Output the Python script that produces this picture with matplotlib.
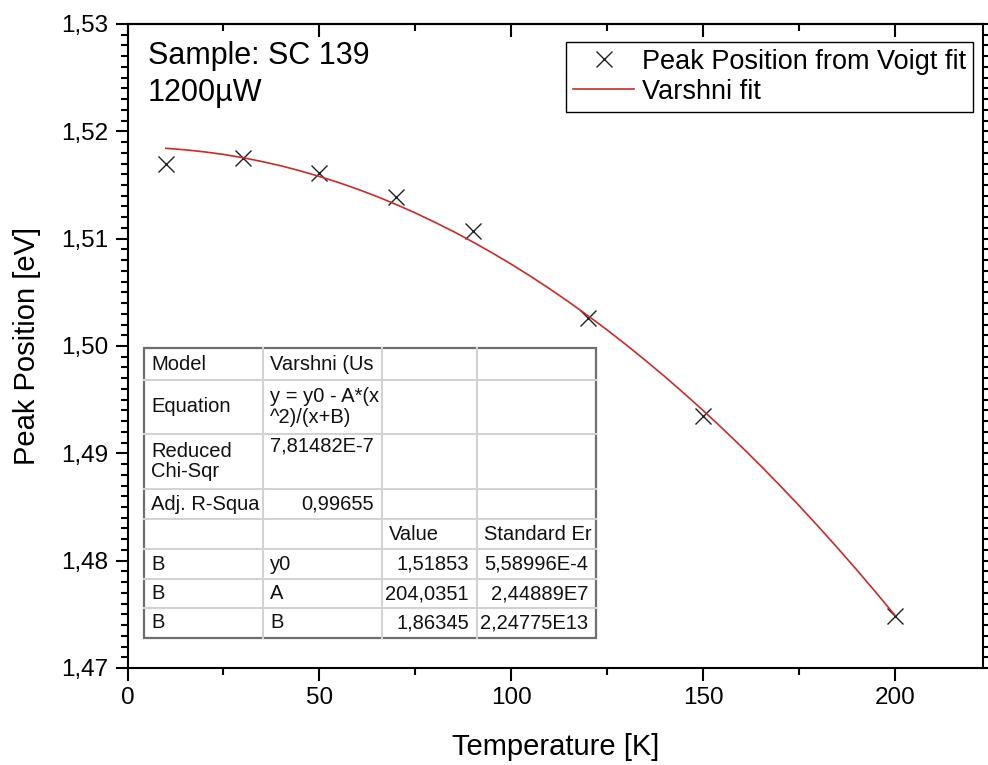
import matplotlib.pyplot as plt
from matplotlib.ticker import MultipleLocator, FuncFormatter
from matplotlib.patches import Rectangle
from matplotlib.lines import Line2D

plt.rcParams['font.family'] = ['Liberation Sans', 'DejaVu Sans']

# measured peak positions
temperature = [10, 30, 50, 70, 90, 120, 150, 200]
peak_position = [1.5170, 1.5175, 1.5161, 1.5139, 1.5107, 1.5026, 1.4935, 1.4748]

# Varshni fit curve
fit_temperature = [10, 15, 20, 25, 30, 35, 40, 45, 50, 55, 60, 65, 70, 75, 80, 85,
                   90, 95, 100, 105, 110, 115, 120, 125, 130, 135, 140, 145, 150,
                   155, 160, 165, 170, 175, 180, 185, 190, 195, 200]
fit_peak = [1.51842, 1.51828, 1.51809, 1.51785, 1.51755, 1.51719, 1.51679, 1.51632,
            1.51580, 1.51523, 1.51461, 1.51393, 1.51319, 1.51240, 1.51155, 1.51066,
            1.50970, 1.50869, 1.50763, 1.50651, 1.50534, 1.50411, 1.50283, 1.50150,
            1.50011, 1.49866, 1.49717, 1.49561, 1.49401, 1.49234, 1.49063, 1.48886,
            1.48703, 1.48515, 1.48321, 1.48122, 1.47918, 1.47708, 1.47493]

# fit report table (Origin style)
table_col1 = ["Model", "Equation", "Reduced\nChi-Sqr", "Adj. R-Squa", "", "B", "B", "B"]
table_col2 = ["Varshni (Us", "y = y0 - A*(x\n^2)/(x+B)", "7,81482E-7", "0,99655", "", "y0", "A", "B"]
table_col3 = ["", "", "", "", "Value", "1,51853", "204,0351", "1,86345"]
table_col4 = ["", "", "", "", "Standard Er", "5,58996E-4", "2,44889E7", "2,24775E13"]

W, H = 988, 765
fig = plt.figure(figsize=(W / 100, H / 100), dpi=100)
ax = fig.add_axes([127.5 / W, 1 - 668 / H, (983 - 127.5) / W, (668 - 24) / H])

ax.plot(temperature, peak_position, linestyle="none", marker="x", markersize=12,
        markeredgewidth=1.0, color="#222222", label="Peak Position from Voigt fit")
ax.plot(fit_temperature, fit_peak, color="#cc2a2a", linewidth=1.2, label="Varshni fit")

ax.set_xlim(0, 223)
ax.set_ylim(1.47, 1.53)
ax.xaxis.set_major_locator(MultipleLocator(50))
ax.xaxis.set_minor_locator(MultipleLocator(25))
ax.yaxis.set_major_locator(MultipleLocator(0.01))
ax.yaxis.set_minor_locator(MultipleLocator(0.001))
ax.yaxis.set_major_formatter(FuncFormatter(lambda v, p: f"{v:.2f}".replace(".", ",")))

for s in ax.spines.values():
    s.set_linewidth(1.5)
ax.tick_params(axis="both", which="major", direction="out", length=9, width=1.5,
               labelsize=17.5, pad=5)
ax.tick_params(axis="both", which="minor", direction="out", length=5, width=1.5)
ax.tick_params(axis="y", which="both", right=True)

top = ax.secondary_xaxis("top")
top.xaxis.set_major_locator(MultipleLocator(50))
top.xaxis.set_minor_locator(MultipleLocator(25))
top.tick_params(which="major", direction="in", length=9, width=1.5, labeltop=False)
top.tick_params(which="minor", direction="in", length=5, width=1.5)
top.spines["top"].set_linewidth(1.5)

ax.set_xlabel("Temperature [K]", fontsize=21, labelpad=17)
ax.set_ylabel("Peak Position [eV]", fontsize=21, labelpad=14)

ax.text(0.024, 0.974, "Sample: SC 139\n1200µW", transform=ax.transAxes,
        fontsize=22, va="top", ha="left", linespacing=1.3)

leg = ax.legend(loc="upper right", bbox_to_anchor=(0.9883, 0.972), borderaxespad=0,
                fontsize=19.5, frameon=True, fancybox=False, framealpha=1,
                edgecolor="black", handlelength=2.25, handletextpad=0.3,
                labelspacing=0.15, borderpad=0.25)
leg.get_frame().set_linewidth(1.0)


def fx(x):
    return x / W


def fy(y):
    return 1 - y / H


col_edges = [144, 263, 382, 477, 596]
row_edges = [348, 380, 434, 489, 519, 549, 579, 608, 638]

fig.add_artist(Rectangle((fx(col_edges[0]), fy(row_edges[-1])),
                         fx(col_edges[-1]) - fx(col_edges[0]),
                         fy(row_edges[0]) - fy(row_edges[-1]),
                         transform=fig.transFigure, facecolor="white",
                         edgecolor="#6e6e6e", linewidth=1.6, zorder=5))
for cx in col_edges[1:-1]:
    fig.add_artist(Line2D([fx(cx), fx(cx)], [fy(row_edges[0]), fy(row_edges[-1])],
                          transform=fig.transFigure, color="#d2d2d2", linewidth=1.5, zorder=6))
for ry in row_edges[1:-1]:
    fig.add_artist(Line2D([fx(col_edges[0]), fx(col_edges[-1])], [fy(ry), fy(ry)],
                          transform=fig.transFigure, color="#d2d2d2", linewidth=1.5, zorder=6))

columns = [table_col1, table_col2, table_col3, table_col4]
right_aligned = {(1, 2), (1, 3), (2, 5), (2, 6), (2, 7), (3, 5), (3, 6), (3, 7)}
for c, col in enumerate(columns):
    for r, txt in enumerate(col):
        if not txt:
            continue
        if (c, r) in right_aligned:
            x, ha = col_edges[c + 1] - 8, "right"
        else:
            x, ha = col_edges[c] + 7, "left"
        if (c, r) == (1, 2):
            y, va = row_edges[r] + 2, "top"
        else:
            y, va = (row_edges[r] + row_edges[r + 1]) / 2, "center"
        fig.text(fx(x), fy(y), txt, ha=ha, va=va, fontsize=14.5, linespacing=1.1,
                 color="#111111", zorder=7)

fig.savefig("out.png", dpi=100)
